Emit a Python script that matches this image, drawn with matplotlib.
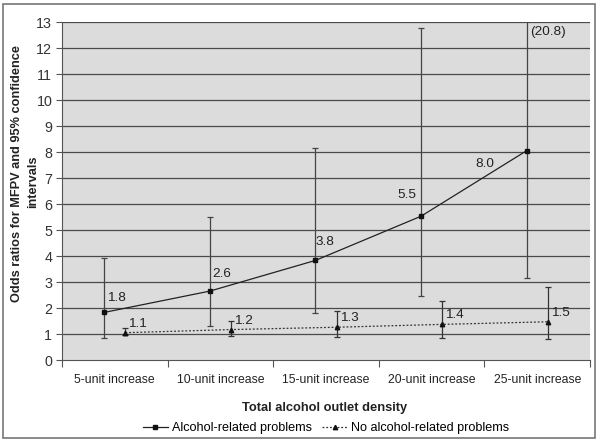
import matplotlib
matplotlib.use("Agg")
import matplotlib.pyplot as plt
from matplotlib.patches import Rectangle
from matplotlib.lines import Line2D

categories = ["5-unit increase", "10-unit increase", "15-unit increase",
              "20-unit increase", "25-unit increase"]
alc_or = [1.83, 2.65, 3.83, 5.53, 8.05]
alc_lo = [0.83, 1.30, 1.82, 2.45, 3.14]
alc_hi = [3.91, 5.51, 8.17, 12.77, 20.8]
alc_labels = ["1.8", "2.6", "3.8", "5.5", "8.0"]
noalc_or = [1.05, 1.17, 1.26, 1.37, 1.47]
noalc_lo = [0.97, 0.92, 0.87, 0.83, 0.80]
noalc_hi = [1.24, 1.51, 1.88, 2.28, 2.80]
noalc_labels = ["1.1", "1.2", "1.3", "1.4", "1.5"]
yticks = list(range(0, 14))

plt.rcParams['font.family'] = ['Liberation Sans', 'DejaVu Sans']

W, H = 600, 443
fig = plt.figure(figsize=(W / 100, H / 100), dpi=100)
ax = fig.add_axes([62 / W, 1 - 360 / H, (590 - 62) / W, (360 - 22) / H])
ax.set_facecolor('#dcdcdc')

n = len(categories)
xa = [i - 0.1 for i in range(n)]
xn = [i + 0.1 for i in range(n)]

# gridlines
for y in yticks[1:]:
    ax.axhline(y, color='#4a4a4a', lw=0.9, zorder=1)

# error bars
ax.errorbar(xa, alc_or,
            yerr=[[o - l for o, l in zip(alc_or, alc_lo)],
                  [h - o for o, h in zip(alc_or, alc_hi)]],
            fmt='none', ecolor='#444444', elinewidth=0.9, capsize=2.5,
            capthick=0.9, zorder=3)
ax.errorbar(xn, noalc_or,
            yerr=[[o - l for o, l in zip(noalc_or, noalc_lo)],
                  [h - o for o, h in zip(noalc_or, noalc_hi)]],
            fmt='none', ecolor='#333333', elinewidth=0.9, capsize=2.5,
            capthick=0.9, zorder=3)

# lines
ax.plot(xa, alc_or, color='#222222', lw=0.9, marker='s', ms=2.8,
        mfc='#111111', mec='#111111', zorder=4)
ax.plot(xn, noalc_or, color='#333333', lw=0.9, ls=(0, (1.5, 1.5)),
        marker='^', ms=3.2, mfc='#111111', mec='#111111', zorder=4)

# data labels
alc_offsets = [(3, 14), (2, 17), (0, 18), (-5, 21), (-32, -13)]
alc_ha = ['left', 'left', 'left', 'right', 'right']
for x, y, t, off, ha in zip(xa, alc_or, alc_labels, alc_offsets, alc_ha):
    ax.annotate(t, (x, y), xytext=off, textcoords='offset pixels',
                ha=ha, va='center', fontsize=9.7, color='#222222', zorder=5)
for x, y, t in zip(xn, noalc_or, noalc_labels):
    ax.annotate(t, (x, y), xytext=(3, 9), textcoords='offset pixels',
                ha='left', va='center', fontsize=9.7, color='#222222', zorder=5)
ax.text(xa[-1] + 0.03, 12.6, "(20.8)", ha='left', va='center',
        fontsize=9.7, color='#222222')

ax.set_xlim(-0.5, n - 0.5)
ax.set_ylim(0, 13)
ax.set_yticks(yticks)
ax.set_yticklabels([str(v) for v in yticks], fontsize=10.3, color='#333333')
ax.set_xticks(range(n))
ax.set_xticklabels(categories, fontsize=8.8, color='#222222')
ax.set_xticks([i - 0.5 for i in range(n + 1)], minor=True)
ax.tick_params(axis='x', which='major', length=0, pad=10)
ax.tick_params(axis='x', which='minor', length=5, color='#555555', width=0.8)
ax.tick_params(axis='y', length=4, color='#555555', width=0.8, pad=3)
for s in ['top', 'right']:
    ax.spines[s].set_visible(False)
for s in ['left', 'bottom']:
    ax.spines[s].set_color('#555555')
    ax.spines[s].set_linewidth(0.8)

fig.text(17 / W, 1 - 174 / H, "Odds ratios for MFPV and 95% confidence",
         rotation=90, ha='center', va='center', fontsize=9.2, fontweight='bold',
         color='#222222')
fig.text(33 / W, 1 - 182 / H, "intervals",
         rotation=90, ha='center', va='center', fontsize=9.2, fontweight='bold',
         color='#222222')
fig.text(325 / W, 1 - 408 / H, "Total alcohol outlet density",
         ha='center', va='center', fontsize=9.3, fontweight='bold',
         color='#222222')

handles = [Line2D([], [], color='#222222', lw=0.9, marker='s', ms=2.8,
                  mfc='#111111', mec='#111111'),
           Line2D([], [], color='#333333', lw=0.9, ls=(0, (1.5, 1.5)),
                  marker='^', ms=3.2, mfc='#111111', mec='#111111')]
fig.legend(handles, ["Alcohol-related problems", "No alcohol-related problems"],
           loc='center', bbox_to_anchor=(326 / W, 1 - 428 / H), ncol=2,
           frameon=False, fontsize=9.1, handlelength=2.0, handletextpad=0.3,
           columnspacing=0.8, borderaxespad=0, borderpad=0)

fig.add_artist(Rectangle((3 / W, 5 / H), 592 / W, 434 / H,
                         transform=fig.transFigure, fill=False,
                         edgecolor='#777777', lw=1.2))

fig.savefig("out.png", dpi=100)
